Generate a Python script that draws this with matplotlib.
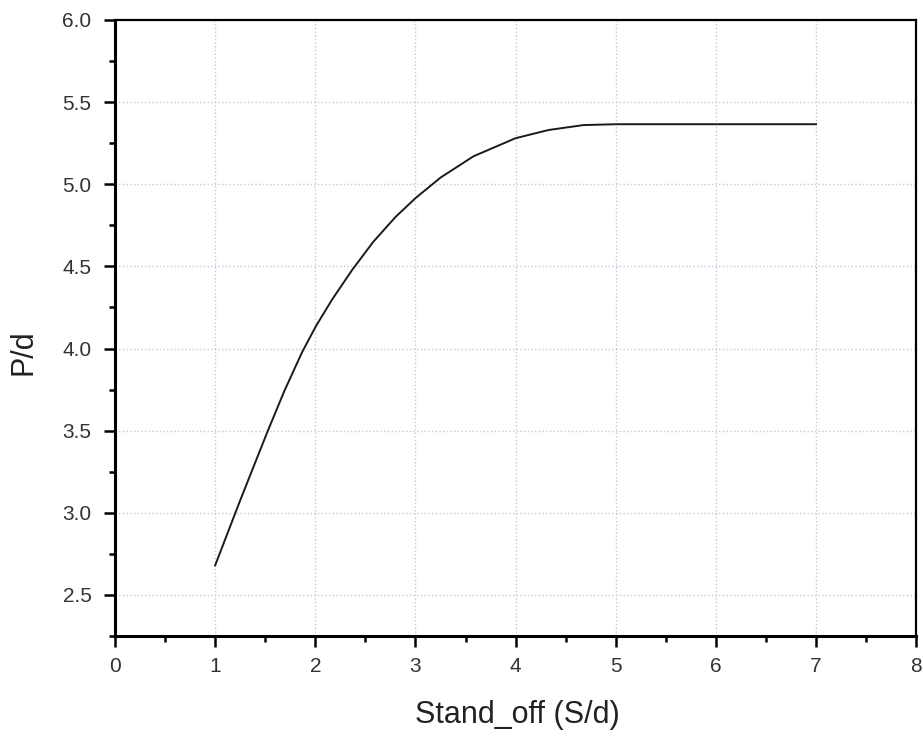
import numpy as np
from matplotlib import pyplot as plt
from matplotlib.ticker import MultipleLocator


# 读图得到的数据点
stand_off = [1.00, 1.12, 1.24, 1.37, 1.52, 1.69, 1.87, 2.01, 2.17, 2.37,
             2.58, 2.80, 3.00, 3.25, 3.58, 4.00, 4.33, 4.68, 5.00, 6.00, 7.00]
p_d = [2.68, 2.87, 3.06, 3.26, 3.49, 3.74, 3.98, 4.14, 4.30, 4.48,
       4.65, 4.80, 4.915, 5.04, 5.17, 5.28, 5.33, 5.36, 5.365, 5.365, 5.365]

plt.rcParams['font.family'] = ['Liberation Sans', 'DejaVu Sans']

fig = plt.figure(figsize=(9.23, 7.37), dpi=100)
ax = fig.add_axes([0.1246, 0.137, 0.868, 0.836])

ax.plot(stand_off, p_d, color='#1a1a1a', linewidth=1.4, solid_joinstyle='round')

ax.set_xlim(0, 8)
ax.set_ylim(2.25, 6.0)
ax.xaxis.set_major_locator(MultipleLocator(1))
ax.xaxis.set_minor_locator(MultipleLocator(0.5))
ax.yaxis.set_minor_locator(MultipleLocator(0.25))
yt = np.arange(2.5, 6.01, 0.5)
ax.set_yticks(yt)
ax.set_yticklabels(['%.1f' % v for v in yt])

ax.grid(visible=True, which='major', axis='both', linestyle=':', color='#c4c8dc', linewidth=1.0)

for side in ['left', 'bottom']:
    ax.spines[side].set_linewidth(2.2)
for side in ['top', 'right']:
    ax.spines[side].set_linewidth(1.6)

ax.tick_params(which='major', direction='out', length=8, width=1.8, labelsize=15,
               labelcolor='#333333')
ax.tick_params(which='minor', direction='out', length=4.5, width=1.8)
ax.tick_params(axis='x', which='major', pad=7)
ax.tick_params(axis='y', which='major', pad=9)

ax.set_xlabel('Stand_off (S/d)', fontsize=22, color='#222222')
ax.set_ylabel('P/d', fontsize=22, color='#222222')
ax.xaxis.set_label_coords(0.502, -0.104)
ax.yaxis.set_label_coords(-0.095, 0.461)

fig.savefig('out.png', dpi=100)
